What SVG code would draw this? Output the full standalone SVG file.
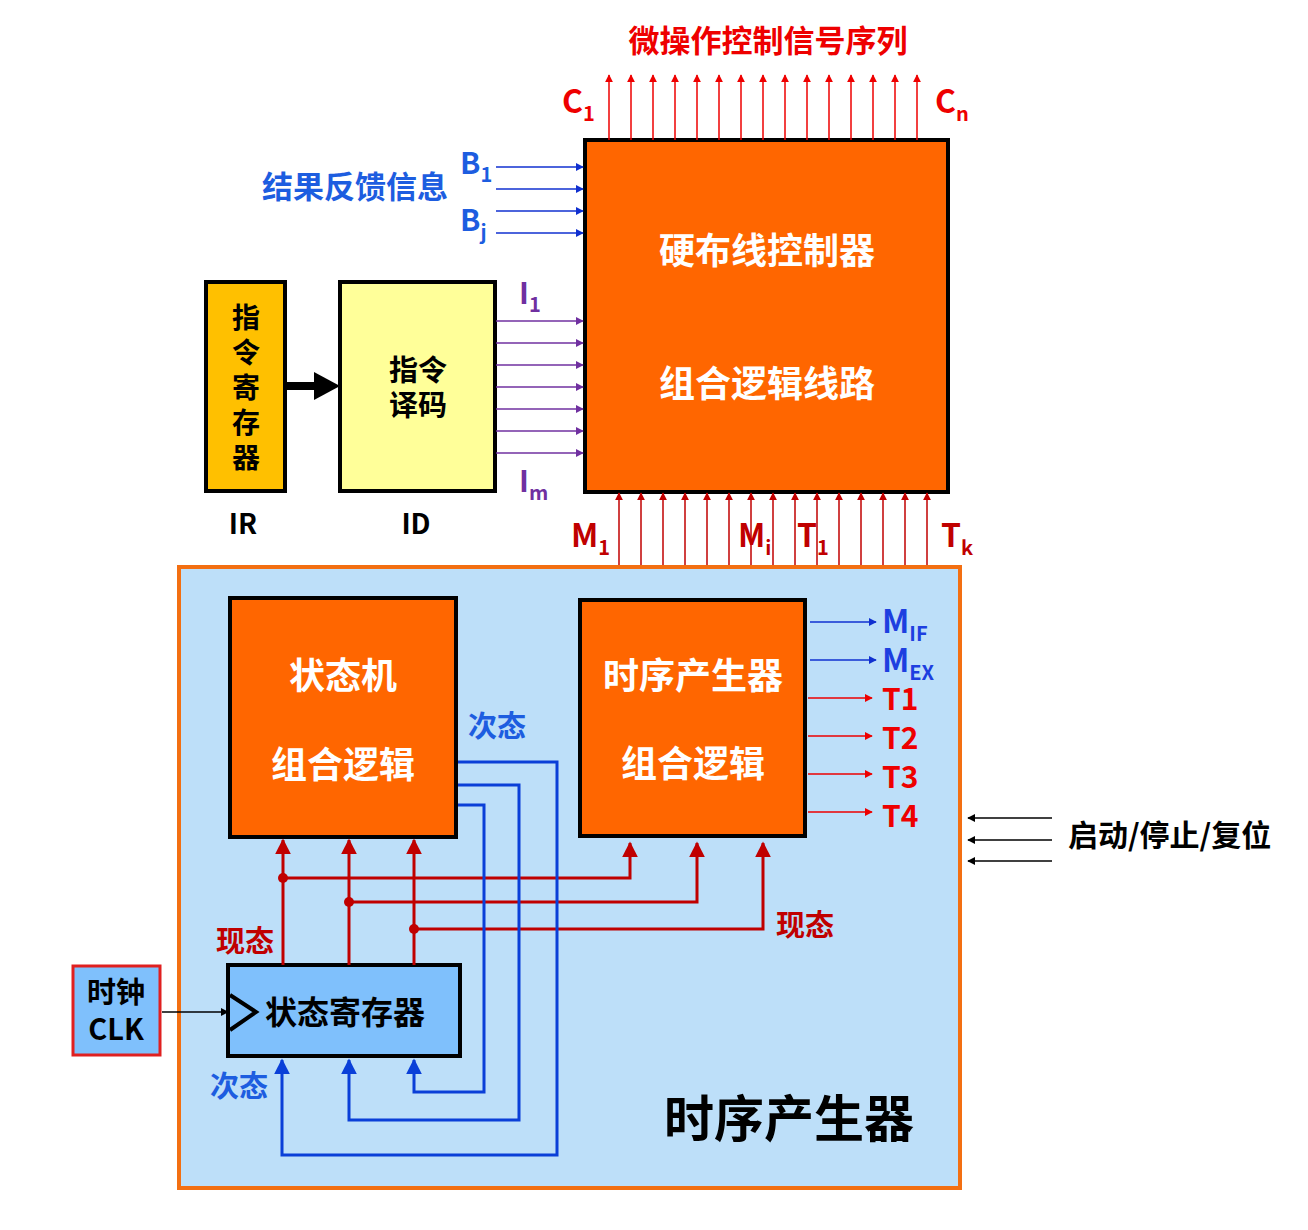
<svg xmlns="http://www.w3.org/2000/svg" width="1308" height="1230" viewBox="0 0 1308 1230">
<style>
text{font-family:"Noto Sans CJK SC","Liberation Sans",sans-serif;font-weight:bold}
.r{stroke:#e00;stroke-width:1.5;fill:none;marker-end:url(#ar)}
.dr{stroke:#c00000;stroke-width:1.5;fill:none;marker-end:url(#adr)}
.dr3{stroke:#c00000;stroke-width:3;fill:none;marker-end:url(#adr3)}
.b{stroke:#1030d0;stroke-width:1.5;fill:none;marker-end:url(#ab)}
.b3{stroke:#0a3fd8;stroke-width:3;fill:none;marker-end:url(#ab3)}
.p{stroke:#7030a0;stroke-width:1.5;fill:none;marker-end:url(#ap)}
.k{stroke:#000;stroke-width:1.5;fill:none;marker-end:url(#ak)}
</style>
<defs>
<marker id="ar" viewBox="0 0 10 10" refX="9" refY="5" markerWidth="8" markerHeight="8" orient="auto" markerUnits="userSpaceOnUse"><path d="M0,0L10,5L0,10z" fill="#e00"/></marker>
<marker id="adr" viewBox="0 0 10 10" refX="9" refY="5" markerWidth="8" markerHeight="8" orient="auto" markerUnits="userSpaceOnUse"><path d="M0,0L10,5L0,10z" fill="#c00000"/></marker>
<marker id="adr3" viewBox="0 0 10 10" refX="9" refY="5" markerWidth="16" markerHeight="16" orient="auto" markerUnits="userSpaceOnUse"><path d="M0,0L10,5L0,10z" fill="#c00000"/></marker>
<marker id="ab" viewBox="0 0 10 10" refX="9" refY="5" markerWidth="8" markerHeight="8" orient="auto" markerUnits="userSpaceOnUse"><path d="M0,0L10,5L0,10z" fill="#1030d0"/></marker>
<marker id="ab3" viewBox="0 0 10 10" refX="9" refY="5" markerWidth="16" markerHeight="16" orient="auto" markerUnits="userSpaceOnUse"><path d="M0,0L10,5L0,10z" fill="#0a3fd8"/></marker>
<marker id="ap" viewBox="0 0 10 10" refX="9" refY="5" markerWidth="8" markerHeight="8" orient="auto" markerUnits="userSpaceOnUse"><path d="M0,0L10,5L0,10z" fill="#7030a0"/></marker>
<marker id="ak" viewBox="0 0 10 10" refX="9" refY="5" markerWidth="8" markerHeight="8" orient="auto" markerUnits="userSpaceOnUse"><path d="M0,0L10,5L0,10z" fill="#000"/></marker>
</defs>
<rect width="1308" height="1230" fill="#fff"/>
<rect id="timing-gen" x="179" y="567" width="781" height="621" fill="#bddff9" stroke="#f36f12" stroke-width="4"/>
<text x="664" y="1137" font-size="50" fill="#000">时序产生器</text>

<g id="controller"><rect x="585" y="140" width="363" height="352" fill="#ff6600" stroke="#000" stroke-width="4"/>
<text x="767" y="264" font-size="36" fill="#fff" text-anchor="middle">硬布线控制器</text>
<text x="767" y="397" font-size="36" fill="#fff" text-anchor="middle">组合逻辑线路</text></g>
<g id="ir"><rect x="206" y="282" width="79" height="209" fill="#ffc000" stroke="#000" stroke-width="4"/>
<text x="246" y="328" font-size="28" text-anchor="middle">指</text><text x="246" y="363" font-size="28" text-anchor="middle">令</text><text x="246" y="398" font-size="28" text-anchor="middle">寄</text><text x="246" y="433" font-size="28" text-anchor="middle">存</text><text x="246" y="468" font-size="28" text-anchor="middle">器</text>
<text x="243" y="534" font-size="28" text-anchor="middle" font-family="Liberation Sans">IR</text></g>
<g id="id"><rect x="340" y="282" width="155" height="209" fill="#ffff99" stroke="#000" stroke-width="4"/>
<text x="418" y="381" font-size="29" text-anchor="middle">指令</text><text x="418" y="416" font-size="29" text-anchor="middle">译码</text>
<text x="416" y="534" font-size="28" text-anchor="middle" font-family="Liberation Sans">ID</text></g>
<g id="state-machine"><rect x="230" y="598" width="226" height="239" fill="#ff6600" stroke="#000" stroke-width="4"/>
<text x="343" y="689" font-size="36" fill="#fff" text-anchor="middle">状态机</text>
<text x="343" y="778" font-size="36" fill="#fff" text-anchor="middle">组合逻辑</text></g>
<g id="timing"><rect x="580" y="600" width="225" height="236" fill="#ff6600" stroke="#000" stroke-width="4"/>
<text x="693" y="689" font-size="36" fill="#fff" text-anchor="middle">时序产生器</text>
<text x="693" y="777" font-size="36" fill="#fff" text-anchor="middle">组合逻辑</text></g>
<g id="state-reg"><rect x="228" y="965" width="232" height="91" fill="#7fc0fc" stroke="#000" stroke-width="4"/>
<path d="M230,995L256,1012L230,1030" fill="none" stroke="#000" stroke-width="4"/>
<text x="345" y="1024" font-size="32" text-anchor="middle">状态寄存器</text></g>
<g id="clk"><rect x="73" y="966" width="87" height="89" fill="#7fc0fc" stroke="#e02020" stroke-width="3"/>
<text x="116" y="1003" font-size="29" text-anchor="middle">时钟</text>
<text x="116" y="1040" font-size="29" text-anchor="middle" font-family="Liberation Sans">CLK</text></g>

<g id="connectors">
<path d="M609,140V75" class="r"/><path d="M631,140V75" class="r"/><path d="M653,140V75" class="r"/><path d="M675,140V75" class="r"/><path d="M697,140V75" class="r"/><path d="M719,140V75" class="r"/><path d="M741,140V75" class="r"/><path d="M763,140V75" class="r"/><path d="M785,140V75" class="r"/><path d="M807,140V75" class="r"/><path d="M829,140V75" class="r"/><path d="M851,140V75" class="r"/><path d="M873,140V75" class="r"/><path d="M895,140V75" class="r"/><path d="M917,140V75" class="r"/>
<path d="M619,565V493" class="dr"/><path d="M641,565V493" class="dr"/><path d="M663,565V493" class="dr"/><path d="M685,565V493" class="dr"/><path d="M707,565V493" class="dr"/><path d="M729,565V493" class="dr"/><path d="M751,565V493" class="dr"/><path d="M773,565V493" class="dr"/><path d="M795,565V493" class="dr"/><path d="M817,565V493" class="dr"/><path d="M839,565V493" class="dr"/><path d="M861,565V493" class="dr"/><path d="M883,565V493" class="dr"/><path d="M905,565V493" class="dr"/><path d="M927,565V493" class="dr"/>
<path d="M496,167H583" class="b"/><path d="M496,189H583" class="b"/><path d="M496,211H583" class="b"/><path d="M496,233H583" class="b"/>
<path d="M496,321H583" class="p"/><path d="M496,343H583" class="p"/><path d="M496,365H583" class="p"/><path d="M496,387H583" class="p"/><path d="M496,409H583" class="p"/><path d="M496,431H583" class="p"/><path d="M496,453H583" class="p"/>
<path d="M287,386H330" stroke="#000" stroke-width="8" fill="none"/><path d="M314,372L340,386L314,400z" fill="#000"/>
<path d="M810,622H876" class="b"/><path d="M810,660H876" class="b"/>
<path d="M808,698H872" class="r"/><path d="M808,736H872" class="r"/><path d="M808,774H872" class="r"/><path d="M808,812H872" class="r"/>
<path d="M1052,818H968" class="k"/><path d="M1052,840H968" class="k"/><path d="M1052,861H968" class="k"/>
<path d="M162,1012H228" class="k" stroke-width="2"/>
<path d="M283,965V840" class="dr3"/><path d="M349,965V840" class="dr3"/><path d="M414,965V840" class="dr3"/>
<path d="M283,878H630V843" class="dr3"/><path d="M349,902H697V843" class="dr3"/><path d="M414,929H763V843" class="dr3"/>
<circle cx="283" cy="878" r="5" fill="#c00000"/><circle cx="349" cy="902" r="5" fill="#c00000"/><circle cx="414" cy="929" r="5" fill="#c00000"/>
<path d="M458,762H557V1155H282V1060" class="b3"/><path d="M458,785H519V1120H349V1060" class="b3"/><path d="M458,805H484V1092H414V1060" class="b3"/>
</g>

<text x="768" y="52" font-size="31" fill="#e00" text-anchor="middle">微操作控制信号序列</text>
<text x="562" y="113" font-size="32" fill="#e00" font-family="Liberation Sans">C<tspan font-size="20" dy="8">1</tspan></text>
<text x="935" y="113" font-size="32" fill="#e00" font-family="Liberation Sans">C<tspan font-size="20" dy="8">n</tspan></text>
<text x="262" y="198" font-size="31" fill="#1d5de0">结果反馈信息</text>
<text x="460" y="174" font-size="30" fill="#1d5de0" font-family="Liberation Sans">B<tspan font-size="20" dy="8">1</tspan></text>
<text x="460" y="231" font-size="30" fill="#1d5de0" font-family="Liberation Sans">B<tspan font-size="20" dy="8">j</tspan></text>
<text x="519" y="304" font-size="30" fill="#7030a0" font-family="Liberation Sans">I<tspan font-size="20" dy="8">1</tspan></text>
<text x="519" y="492" font-size="30" fill="#7030a0" font-family="Liberation Sans">I<tspan font-size="20" dy="8">m</tspan></text>
<text x="571" y="547" font-size="32" fill="#c00000" font-family="Liberation Sans">M<tspan font-size="20" dy="8">1</tspan></text>
<text x="738" y="547" font-size="32" fill="#c00000" font-family="Liberation Sans">M<tspan font-size="20" dy="8">i</tspan></text>
<text x="797" y="547" font-size="32" fill="#c00000" font-family="Liberation Sans">T<tspan font-size="20" dy="8">1</tspan></text>
<text x="941" y="547" font-size="32" fill="#c00000" font-family="Liberation Sans">T<tspan font-size="20" dy="8">k</tspan></text>
<text x="882" y="633" font-size="32" fill="#1d3fe0" font-family="Liberation Sans">M<tspan font-size="20" dy="8">IF</tspan></text>
<text x="882" y="672" font-size="32" fill="#1d3fe0" font-family="Liberation Sans">M<tspan font-size="20" dy="8">EX</tspan></text>
<text x="882" y="710" font-size="30" fill="#e00" font-family="Liberation Sans">T1</text>
<text x="882" y="749" font-size="30" fill="#e00" font-family="Liberation Sans">T2</text>
<text x="882" y="788" font-size="30" fill="#e00" font-family="Liberation Sans">T3</text>
<text x="882" y="827" font-size="30" fill="#e00" font-family="Liberation Sans">T4</text>
<text x="1068" y="846" font-size="30" fill="#000">启动/停止/复位</text>
<text x="468" y="737" font-size="29" fill="#1d5de0">次态</text>
<text x="210" y="1097" font-size="29" fill="#1d5de0">次态</text>
<text x="216" y="952" font-size="29" fill="#c00000">现态</text>
<text x="776" y="936" font-size="29" fill="#c00000">现态</text>
</svg>
